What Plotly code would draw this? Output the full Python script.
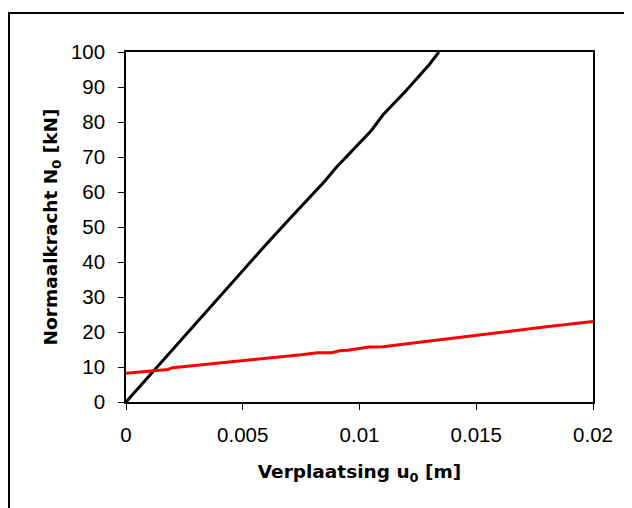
import plotly.graph_objects as go

# Black series (steep)
black_x = [0, 0.001, 0.0015, 0.002, 0.003, 0.004, 0.005, 0.006, 0.007, 0.008,
           0.0085, 0.009, 0.0095, 0.01, 0.0105, 0.011, 0.012, 0.013, 0.0134]
black_y = [0, 7.5, 11.5, 15, 22.5, 30, 37.5, 45, 52.3, 59.5,
           63, 67, 70.5, 74, 77.5, 82, 89, 96.5, 100]

# Red series (shallow)
red_x = [0, 0.0015, 0.0018, 0.002, 0.004, 0.006, 0.0075, 0.0082, 0.0088, 0.0092,
         0.0095, 0.0104, 0.011, 0.013, 0.015, 0.0153, 0.0165, 0.018, 0.02]
red_y = [8.2, 9.0, 9.3, 9.8, 11.1, 12.5, 13.5, 14.1, 14.1, 14.7,
         14.8, 15.7, 15.8, 17.4, 19.1, 19.2, 20.3, 21.5, 23.0]

x_ticks = [0, 0.005, 0.01, 0.015, 0.02]
x_tick_labels = ["0", "0.005", "0.01", "0.015", "0.02"]
y_ticks = list(range(0, 101, 10))

fig = go.Figure()
fig.add_trace(go.Scatter(x=black_x, y=black_y, mode="lines",
                         line=dict(color="black", width=3), showlegend=False))
fig.add_trace(go.Scatter(x=red_x, y=red_y, mode="lines",
                         line=dict(color="#ff0000", width=3), showlegend=False))

font_main = "Liberation Sans, Arial, sans-serif"
font_title = "DejaVu Sans, Liberation Sans, sans-serif"

# plot area in figure coordinates (page has an 8px body offset)
L, T, W, H = 118, 44, 467, 350

fig.update_layout(
    width=632, height=508,
    margin=dict(l=L, r=632 - L - W, t=T, b=508 - T - H),
    paper_bgcolor="white", plot_bgcolor="white",
    font=dict(family=font_main, size=20.5, color="black"),
    xaxis=dict(
        range=[0, 0.02], tickvals=x_ticks, ticktext=x_tick_labels,
        showgrid=False, zeroline=False, showline=True, linecolor="black",
        linewidth=1.5, mirror=True, ticks="outside", ticklen=6, tickwidth=1,
        tickcolor="black", ticklabelstandoff=8,
        title=dict(text="<b>Verplaatsing u<sub>0</sub> [m]</b>",
                   font=dict(family=font_title, size=18.5), standoff=20),
    ),
    yaxis=dict(
        range=[0, 100], tickvals=y_ticks,
        showgrid=False, zeroline=False, showline=True, linecolor="black",
        linewidth=1.5, mirror=True, ticks="outside", ticklen=6, tickwidth=1,
        tickcolor="black", ticklabelstandoff=9,
        title=dict(text="<b>Normaalkracht N<sub>0</sub> [kN]</b>",
                   font=dict(family=font_title, size=18.5), standoff=8),
    ),
    shapes=[dict(type="rect", xref="paper", yref="paper",
                 x0=(1 - L) / W, x1=(660 - L) / W,
                 y0=(T + H - 540) / H, y1=(T + H - 5) / H,
                 line=dict(color="black", width=2), fillcolor="rgba(0,0,0,0)",
                 layer="below")],
)

fig.write_html("out.html")
